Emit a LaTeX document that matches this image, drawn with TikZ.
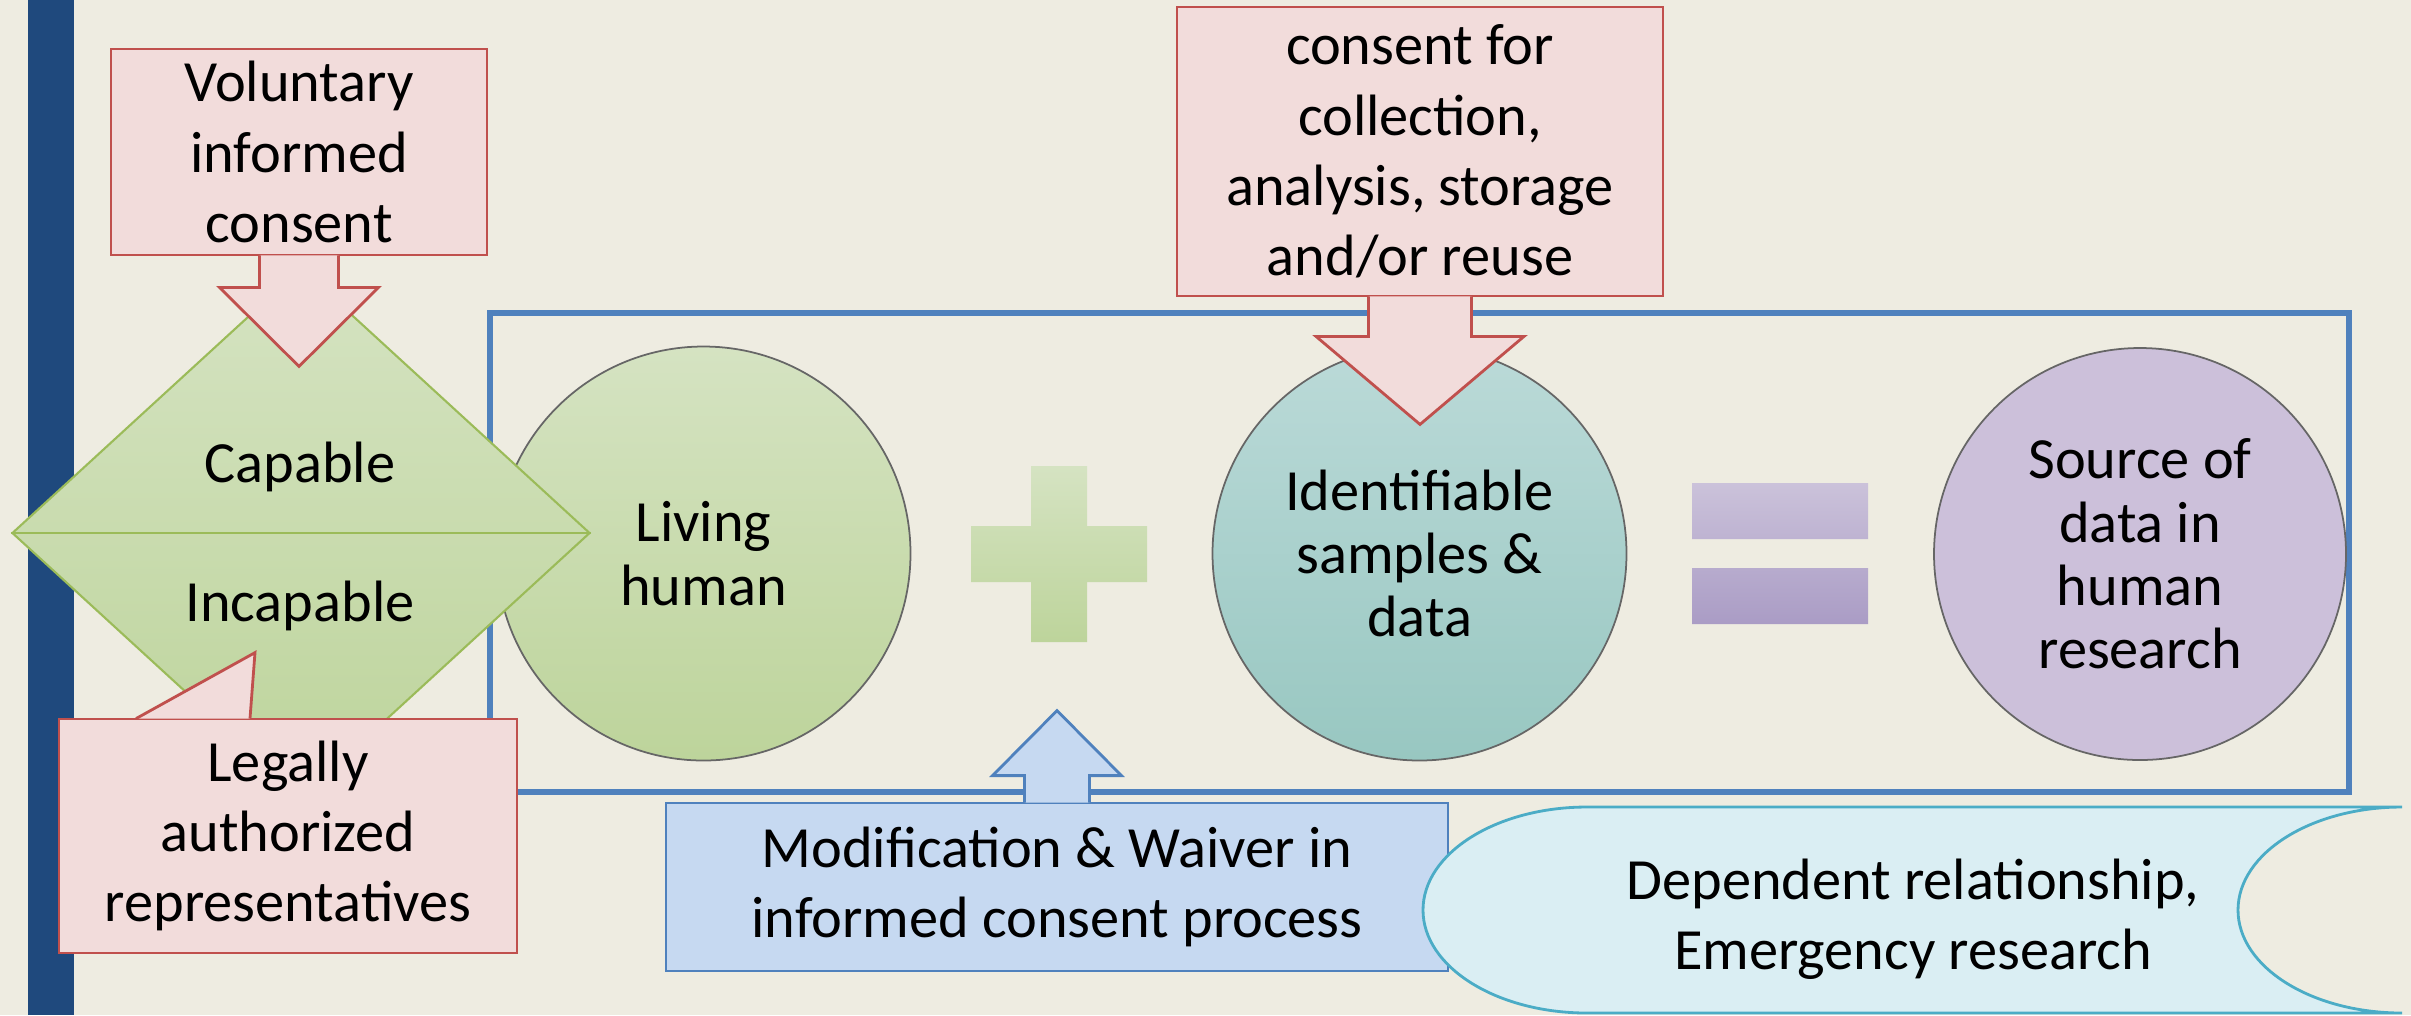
\documentclass[tikz,border=0pt]{standalone}
\usepackage{fontspec}
\setmainfont{Carlito}
\usepackage{tikz}
\usetikzlibrary{positioning,calc,shapes.geometric}

\definecolor{slidebg}{HTML}{EEECE1}
\definecolor{sidebar}{HTML}{1F497D}
\definecolor{frameblue}{HTML}{4F81BD}
\definecolor{callpink}{HTML}{F2DCDB}
\definecolor{callred}{HTML}{C0504D}
\definecolor{callblue}{HTML}{C6D9F1}
\definecolor{storefill}{HTML}{DAEEF3}
\definecolor{storeline}{HTML}{4BACC6}
\definecolor{greentop}{HTML}{D5E3C2}
\definecolor{greenbot}{HTML}{BDD49B}
\definecolor{greenline}{HTML}{9BBB59}
\definecolor{tealtop}{HTML}{BBDAD8}
\definecolor{tealbot}{HTML}{98C7C1}
\definecolor{lilac}{HTML}{CCC0DA}
\definecolor{lilactop}{HTML}{CBC2DA}
\definecolor{lilacbot}{HTML}{AA9CC5}

\tikzset{
    every node/.style = {
        align=center,
        font=\fontsize{16.6}{20}\selectfont
    },
    callbox/.style = {
        shape=rectangle,
        inner sep=0pt
    },
    pinkcall/.style = {
        draw=callred,
        fill=callpink,
        line width=0.8pt
    },
    bluecall/.style = {
        draw=frameblue,
        fill=callblue,
        line width=0.8pt
    },
    bubble/.style = {
        draw=black!60,
        shape=circle,
        inner sep=0pt,
        minimum size=4.14cm,
        line width=0.5pt,
        font=\fontsize{16.6}{18}\selectfont
    },
    store/.style = {
        draw=storeline,
        fill=storefill,
        line width=0.8pt
    },
}

\begin{document}
\begin{tikzpicture}
    \useasboundingbox (0,0) rectangle (24.11,-10.15);
    \fill[slidebg] (0,0) rectangle (24.11,-10.15);
    \fill[sidebar] (0.28,0) rectangle (0.74,-10.15);

    % frame round the equation
    \node[draw=frameblue, line width=1.6pt, callbox, minimum width=18.59cm, minimum height=4.79cm] (frame) at (14.195,-5.525) {};

    \node[bubble, top color=greentop, bottom color=greenbot] (human) at (7.035,-5.535) {Living\\human};
    \node[bubble, top color=tealtop, bottom color=tealbot] (samples) at (14.195,-5.535) {Identifiable\\samples \&\\data};
    \node[bubble, fill=lilac, minimum size=4.12cm] (source) at (21.40,-5.54) {Source of\\data in\\human\\research};

    % plus and equals signs
    \shade[top color=greentop, bottom color=greenbot] (10.31,-4.66) rectangle (10.87,-6.42) (9.71,-5.26) rectangle (11.47,-5.82);
    \shade[top color=lilactop, bottom color=lilacbot] (16.92,-4.83) rectangle (18.68,-5.39) (16.92,-5.68) rectangle (18.68,-6.24);

    % capable / incapable
    \node[draw=greenline, line width=0.6pt, shape=diamond, inner sep=0pt, minimum width=5.78cm, minimum height=5.30cm, top color=greentop, bottom color=greenbot] (cap) at (3.01,-5.33) {};
    \path[draw=greenline, line width=0.6pt] (cap.west) -- (cap.east);
    \node[anchor=base] (capable) at (3.00,-4.82) {Capable};
    \node[anchor=base] (incapable) at (3.00,-6.21) {Incapable};

    % down arrow callouts
    \node[pinkcall, callbox, minimum width=3.76cm, minimum height=2.06cm] (vol) at (2.99,-1.52) {Voluntary\\informed\\consent};
    \path[pinkcall] ($(vol.south)+(-0.395,0.01)$) -- ($(vol.south)+(-0.395,-0.31)$) -- ($(vol.south)+(-0.795,-0.31)$) -- ($(vol.south)+(0,-1.10)$) -- ($(vol.south)+(0.795,-0.31)$) -- ($(vol.south)+(0.395,-0.31)$) -- ($(vol.south)+(0.395,0.01)$);

    \node[pinkcall, callbox, minimum width=4.86cm, minimum height=2.89cm] (reuse) at (14.20,-1.515) {consent for\\collection,\\analysis, storage\\and/or reuse};
    \path[pinkcall] ($(reuse.south)+(-0.515,0.01)$) -- ($(reuse.south)+(-0.515,-0.39)$) -- ($(reuse.south)+(-1.04,-0.39)$) -- ($(reuse.south)+(0,-1.27)$) -- ($(reuse.south)+(1.04,-0.39)$) -- ($(reuse.south)+(0.515,-0.39)$) -- ($(reuse.south)+(0.515,0.01)$);

    % wedge callout
    \node[pinkcall, callbox, minimum width=4.58cm, minimum height=2.34cm] (legal) at (2.88,-8.36) {Legally\\authorized\\representatives};
    \path[pinkcall] ($(legal.north)+(-1.52,-0.01)$) -- ($(legal.north)+(-0.33,0.65)$) -- ($(legal.north)+(-0.38,-0.01)$);

    % up arrow callout
    \node[bluecall, callbox, minimum width=7.82cm, minimum height=1.68cm] (waiver) at (10.57,-8.87) {Modification \& Waiver in\\informed consent process};
    \path[bluecall] ($(waiver.north)+(-0.325,-0.01)$) -- ($(waiver.north)+(-0.325,0.26)$) -- ($(waiver.north)+(-0.645,0.26)$) -- ($(waiver.north)+(0,0.91)$) -- ($(waiver.north)+(0.645,0.26)$) -- ($(waiver.north)+(0.325,0.26)$) -- ($(waiver.north)+(0.325,-0.01)$);

    % stored data shape
    \path[store] (24.02,-8.07) -- (15.87,-8.07) arc[start angle=90, end angle=270, x radius=1.64cm, y radius=1.03cm] -- (24.02,-10.13) arc[start angle=270, end angle=90, x radius=1.64cm, y radius=1.03cm] -- cycle;
    \node (special) at (19.13,-9.19) {Dependent relationship,\\Emergency research};
\end{tikzpicture}
\end{document}
